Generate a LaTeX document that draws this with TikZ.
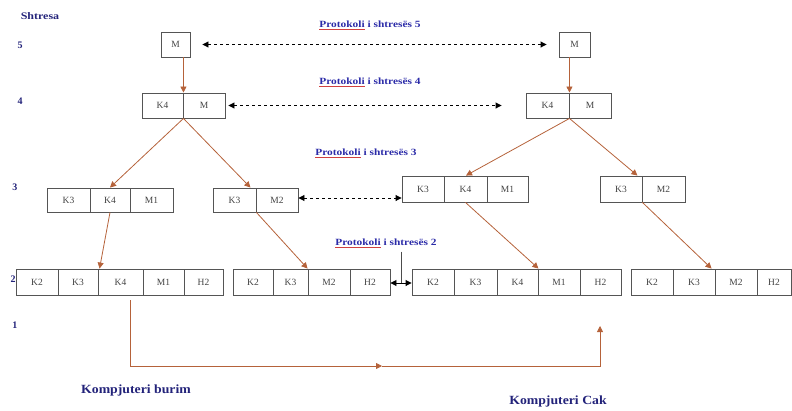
\documentclass[tikz,border=0pt]{standalone}
\usepackage{fontspec}
\setmainfont{Liberation Serif}
\usetikzlibrary{arrows.meta,calc}
\definecolor{navy}{HTML}{23237A}
\definecolor{protblue}{HTML}{2B2BA8}
\definecolor{brownarrow}{HTML}{B5623A}
\definecolor{boxline}{HTML}{555555}
\definecolor{celltext}{HTML}{444444}
\definecolor{spellred}{HTML}{D04040}
\tikzset{
  cell/.style={draw=boxline, line width=0.9pt, fill=white, inner sep=0pt,
    font=\fontsize{9.5}{10}\selectfont, text=celltext},
  layer/.style={font=\bfseries\fontsize{10}{11}\selectfont, text=navy, inner sep=0pt},
  prot/.style={font=\bfseries\fontsize{9.5}{10}\selectfont, text=protblue, inner sep=1pt},
  comp/.style={font=\bfseries\fontsize{12.5}{14}\selectfont, text=navy, inner sep=0pt},
  down/.style={draw=brownarrow, line width=0.8pt, -{Triangle[width=6pt,length=6pt]}},
  peer/.style={draw=black, line width=0.9pt, dash pattern=on 3pt off 3pt,
    {Triangle[width=6pt,length=6pt]}-{Triangle[width=6pt,length=6pt]}},
}
\newcommand{\cellnode}[5]{% name, x1, x2, height, text
  \node[cell, minimum width={(#3-#2)*1pt}, minimum height=#4] (#1) at ({(#2+#3)/2},\cellrowy) {#5};}
\newcommand{\protlabel}[1]{\scalebox{1.2}[1]{{\color{spellred}\underline{\color{protblue}Protokoli}} i shtresës #1}}
\begin{document}
\begin{tikzpicture}[x=1pt,y=-1pt]
\useasboundingbox (0,0) rectangle (792,410);

% layer labels
\node[layer] (shtresa) at (40,16) {\scalebox{1.2}[1]{Shtresa}};
\node[layer] (l5) at (20,45) {5};
\node[layer] (l4) at (20,101) {4};
\node[layer] (l3) at (15,187) {3};
\node[layer] (l2) at (13,279) {2};
\node[layer] (l1) at (15,325) {1};

% protocol labels
\node[prot] (p5) at (370,25) {\protlabel{5}};
\node[prot] (p4) at (370,82) {\protlabel{4}};
\node[prot] (p3) at (366,153) {\protlabel{3}};
\node[prot] (p2) at (386,243) {\protlabel{2}};

% row 5
\def\cellrowy{44.5}
\cellnode{m5L}{161}{190}{25pt}{M}
\cellnode{m5R}{559}{590}{25pt}{M}

% row 4
\def\cellrowy{105.5}
\cellnode{r4a1}{142}{183}{25pt}{K4}
\cellnode{r4a2}{183}{225}{25pt}{M}
\cellnode{r4b1}{526}{569}{25pt}{K4}
\cellnode{r4b2}{569}{611}{25pt}{M}

% row 3 left
\def\cellrowy{200}
\cellnode{r3a1}{47}{90}{24pt}{K3}
\cellnode{r3a2}{90}{130}{24pt}{K4}
\cellnode{r3a3}{130}{173}{24pt}{M1}
\cellnode{r3b1}{213}{256}{24pt}{K3}
\cellnode{r3b2}{256}{298}{24pt}{M2}
% row 3 right
\def\cellrowy{189}
\cellnode{r3c1}{402}{444}{26pt}{K3}
\cellnode{r3c2}{444}{487}{26pt}{K4}
\cellnode{r3c3}{487}{528}{26pt}{M1}
\cellnode{r3d1}{600}{642}{26pt}{K3}
\cellnode{r3d2}{642}{685}{26pt}{M2}

% row 2
\def\cellrowy{282}
\cellnode{r2a1}{16}{58}{26pt}{K2}
\cellnode{r2a2}{58}{98}{26pt}{K3}
\cellnode{r2a3}{98}{143}{26pt}{K4}
\cellnode{r2a4}{143}{184}{26pt}{M1}
\cellnode{r2a5}{184}{223}{26pt}{H2}
\cellnode{r2b1}{233}{273}{26pt}{K2}
\cellnode{r2b2}{273}{308}{26pt}{K3}
\cellnode{r2b3}{308}{350}{26pt}{M2}
\cellnode{r2b4}{350}{390}{26pt}{H2}
\cellnode{r2c1}{412}{454}{26pt}{K2}
\cellnode{r2c2}{454}{497}{26pt}{K3}
\cellnode{r2c3}{497}{538}{26pt}{K4}
\cellnode{r2c4}{538}{580}{26pt}{M1}
\cellnode{r2c5}{580}{621}{26pt}{H2}
\cellnode{r2d1}{631}{673}{26pt}{K2}
\cellnode{r2d2}{673}{715}{26pt}{K3}
\cellnode{r2d3}{715}{757}{26pt}{M2}
\cellnode{r2d4}{757}{791}{26pt}{H2}

% computer labels
\node[comp] (src) at (136,390) {\scalebox{1.1}[1]{Kompjuteri burim}};
\node[comp] (dst) at (558,401) {\scalebox{1.1}[1]{Kompjuteri Cak}};

% peer protocol arrows
\draw[peer, shorten <=12pt, shorten >=12pt] (m5L.east) -- (m5R.west);
\draw[peer, shorten <=3pt, shorten >=24pt] (r4a2.east) -- (r4b1.west);
\draw[peer] ($(r3b2.east)+(0,-2)$) -- ($(r3c1.west)+(0,9)$);
\draw[line width=0.9pt, {Triangle[width=6pt,length=6pt]}-{Triangle[width=6pt,length=6pt]}]
  ($(r2b4.east)+(0,1)$) -- ($(r2c1.west)+(0,1)$);
\coordinate (p2foot) at ($(r2b4.east)!0.5!(r2c1.west)+(0,1)$);
\draw[line width=0.6pt, black!70] (p2.south -| p2foot) ++(0,3) -- (p2foot);

% encapsulation arrows
\draw[down] (m5L.south -| r4a1.east) -- (r4a1.north east);
\draw[down] (m5R.south -| r4b1.east) -- (r4b1.north east);
\draw[down] (r4a1.south east) -- (r3a2.north);
\draw[down] (r4a1.south east) -- ($(r3b1.north east)+(-6,0)$);
\draw[down] (r4b1.south east) -- ($(r3c2.north)+(0.5,0)$);
\draw[down] (r4b1.south east) -- ($(r3d1.north east)+(-5,0)$);
\draw[down] (r3a2.south) -- ($(r2a3.north west)+(2,0)$);
\draw[down] (r3b1.south east) -- (r2b3.north west);
\draw[down] (r3c2.south) -- (r2c3.north east);
\draw[down] (r3d1.south east) -- ($(r2d3.north west)+(-3,0)$);

% physical path
\coordinate (phystart) at (130,300);
\coordinate (phymid) at (382,366);
\coordinate (phyend) at (600,326);
\draw[down] (phystart) |- (phymid);
\draw[down] (phymid) -| (phyend);
\end{tikzpicture}
\end{document}
